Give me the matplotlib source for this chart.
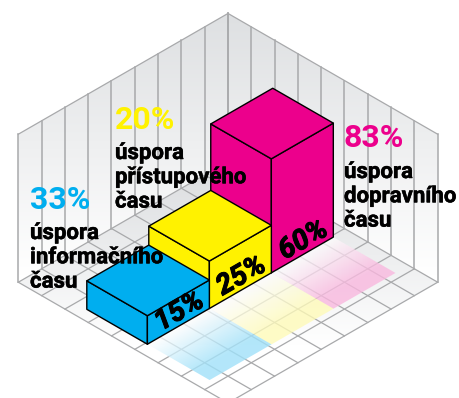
import numpy as np
import matplotlib
matplotlib.use("Agg")
import matplotlib.pyplot as plt
from matplotlib.patches import Polygon
from matplotlib.colors import to_rgb
import matplotlib.patheffects as pe

bar_values = [15, 25, 60]
bar_labels = ["15%", "25%", "60%"]
savings = ["33%", "20%", "83%"]
captions = ["úspora\ninformačního\nčasu", "úspora\npřístupového\nčasu", "úspora\ndopravního\nčasu"]
colors = ["#00aeef", "#fff200", "#ec008c"]

W, H = 460, 398
OX, OY, DX, DY = 228.0, 403.0, 23.3, 13.42
PX_PER_PCT = 1.9
N = 9
WALL = 148 / PX_PER_PCT  # wall height in value units
U0, UW = 0.46, 2.66
V0, V1, VS = 3.92, 6.52, 1.25

def P(u, v, z=0.0):
    return (OX + (u - v) * DX, OY - (u + v) * DY - z * PX_PER_PCT)

fig = plt.figure(figsize=(W / 100, H / 100), dpi=100)
ax = fig.add_axes([0, 0, 1, 1])
ax.set_xlim(0, W); ax.set_ylim(H, 0); ax.axis("off")

yy, xx = np.mgrid[0.5:H, 0.5:W]
def ramp(y, y0, y1, c0):
    t = np.clip((y - y0) / (y1 - y0), 0, 1)[..., None]
    return np.array(to_rgb(c0)) * (1 - t) + t

def painted(img, pts, z):
    im = ax.imshow(img, extent=(0, W, H, 0), zorder=z, aspect="auto", interpolation="bilinear")
    poly = Polygon(pts, closed=True, transform=ax.transData, fc="none", ec="none")
    ax.add_patch(poly)
    im.set_clip_path(poly)

# walls and floor
painted(ramp(yy, 15, 275, "#dee0e2"),
        [P(0, N), P(N, N), P(N, 0), P(N, 0, WALL), P(N, N, WALL), P(0, N, WALL)], 1)
painted(ramp(yy, 170, 345, "#dcdee0"), [P(0, 0), P(N, 0), P(N, N), P(0, N)], 1)

GRID = "#a8a9ab"
for k in range(N + 1):
    for base in (P(k, N), P(N, k)):
        ax.plot([base[0]] * 2, [base[1], base[1] - WALL * PX_PER_PCT], color=GRID, lw=1.1, zorder=2)
    ax.plot(*zip(P(k, 0), P(k, N)), color=GRID, lw=0.9, zorder=2)
    ax.plot(*zip(P(0, k), P(N, k)), color=GRID, lw=0.9, zorder=2)
ax.plot(*zip(P(0, N, WALL), P(N, N, WALL)), color=GRID, lw=0.9, zorder=2)
ax.plot(*zip(P(N, 0, WALL), P(N, N, WALL)), color=GRID, lw=0.9, zorder=2)

# inverse projection for floor reflections
a = (xx - OX) / DX
b = (OY - yy) / DY
vv = (b - a) / 2

shadow_alpha = [0.30, 0.22, 0.22]
for i, (val, col) in enumerate(zip(bar_values, colors)):
    u0, u1 = U0 + i * UW, U0 + (i + 1) * UW
    corners = [P(u0, VS), P(u1, VS), P(u1, V0), P(u0, V0)]
    # pale base of the reflection, softening the grid beneath it
    base = np.ones((H, W, 4))
    base[..., 3] = 0.72
    painted(base, corners, 3)
    img = np.zeros((H, W, 4))
    img[..., :3] = to_rgb(col)
    img[..., 3] = shadow_alpha[i] * np.clip((V0 - vv) / (V0 - VS - 0.6), 0, 1)
    painted(img, corners, 3.5)
    # box: later bars stand behind earlier ones
    kw = dict(closed=True, fc=col, ec="black", lw=1.0, joinstyle="round")
    z = 6 - i
    ax.add_patch(Polygon([P(u0, V1), P(u0, V0), P(u0, V0, val), P(u0, V1, val)], zorder=z, **kw))
    ax.add_patch(Polygon([P(u0, V0), P(u1, V0), P(u1, V0, val), P(u0, V0, val)], zorder=z, **kw))
    ax.add_patch(Polygon([P(u0, V0, val), P(u1, V0, val), P(u1, V1, val), P(u0, V1, val)], zorder=z, **kw))
    # face label
    cx, cy = P((u0 + u1) / 2, V0, 0)
    ax.text(cx + 1, cy - 14.5, bar_labels[i], rotation=30, rotation_mode="anchor",
            ha="center", va="center", fontsize=20.5, family="Roboto",
            weight="bold", style="italic", color="black", zorder=10,
            path_effects=[pe.withStroke(linewidth=0.7, foreground="black")])

pct_pos = [(30, 209), (115, 129), (344, 147)]
cap_base = [(30, 239), (115, 159), (344, 178)]
heavy = [pe.withStroke(linewidth=0.35, foreground="black")]
for s, c, col, (px, py), (tx, ty) in zip(savings, captions, colors, pct_pos, cap_base):
    ax.text(px, py, s, color=col, fontsize=23, family="Roboto", weight="bold", ha="left", va="baseline", zorder=11)
    for j, line in enumerate(c.split("\n")):
        ax.text(tx, ty + j * 24.3, line, color="black", fontsize=16, family="Roboto",
                weight="bold", ha="left", va="baseline", zorder=11, path_effects=heavy)

fig.savefig("out.png", dpi=100)
